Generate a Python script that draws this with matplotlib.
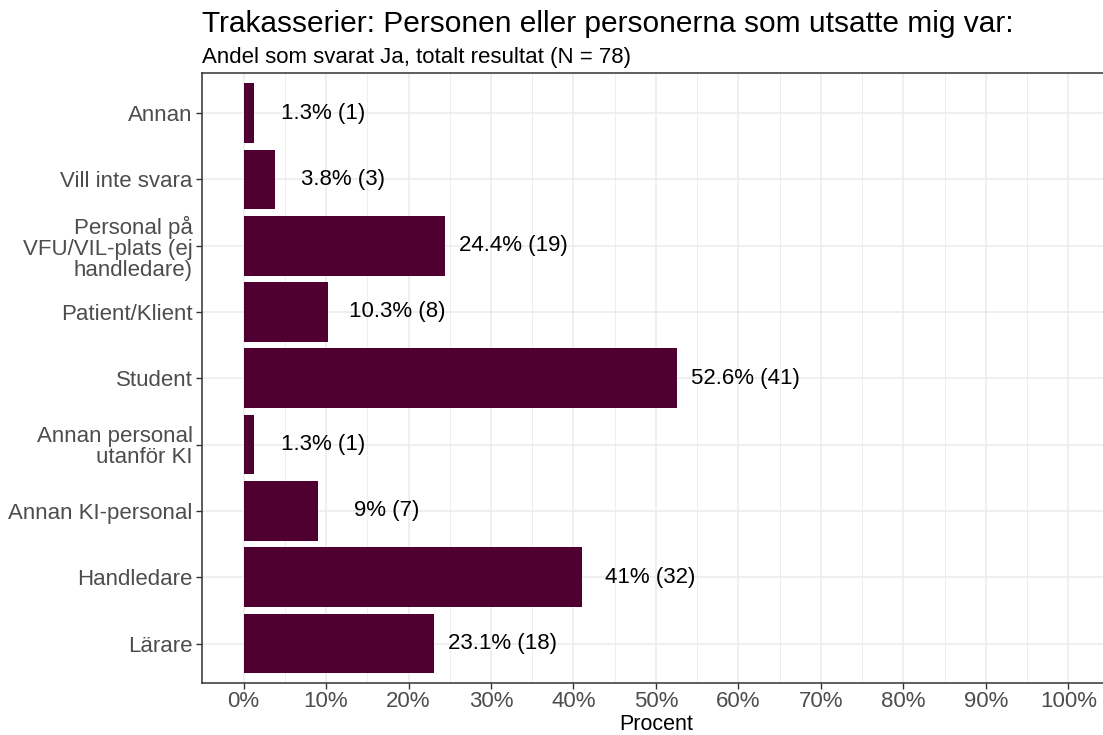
import matplotlib
matplotlib.use("Agg")
from matplotlib import pyplot as plt
from matplotlib.ticker import MultipleLocator

plt.rcParams['font.family'] = ['Liberation Sans', 'DejaVu Sans']

# categories from bottom to top
categories = ["Lärare", "Handledare", "Annan KI-personal", "Annan personal\nutanför KI",
              "Student", "Patient/Klient", "Personal på\nVFU/VIL-plats (ej\nhandledare)",
              "Vill inte svara", "Annan"]
percent = [23.1, 41, 9, 1.3, 52.6, 10.3, 24.4, 3.8, 1.3]
counts = [18, 32, 7, 1, 41, 8, 19, 3, 1]
percent_labels = ["23.1%", "41%", "9%", "1.3%", "52.6%", "10.3%", "24.4%", "3.8%", "1.3%"]

bar_color = "#4f0030"
grid_color = "#ebebeb"

fig = plt.figure(figsize=(11.03, 7.35), dpi=100)
ax = fig.add_axes([0.1834, 0.0703, 0.8226, 0.83])

y = list(range(len(categories)))
ax.barh(y, percent, height=0.9, color=bar_color, zorder=3)
for yi, p, lab, n in zip(y, percent, percent_labels, counts):
    ax.text(p + 8.3, yi, f"{lab} ({n})", ha="center", va="center",
            fontsize=16, color="black", zorder=4)

ax.set_xlim(-5, 105)
ax.set_ylim(-0.6, len(categories) - 0.4)
ax.xaxis.set_minor_locator(MultipleLocator(5))
ax.set_xticks(range(0, 101, 10))
ax.set_xticklabels([f"{v}%" for v in range(0, 101, 10)])
ax.set_yticks(y)
ax.set_yticklabels(categories, linespacing=1.0)

ax.grid(True, which="major", color=grid_color, linewidth=1.1, zorder=0)
ax.grid(True, which="minor", axis="x", color=grid_color, linewidth=0.6, zorder=0)
ax.tick_params(axis="both", which="major", labelsize=16, labelcolor="#4d4d4d",
               color="#333333", length=4, width=1, pad=3)
ax.tick_params(axis="x", which="major", pad=1.5)
ax.tick_params(axis="both", which="minor", length=0)
for spine in ax.spines.values():
    spine.set_color("#333333")
    spine.set_linewidth(1.1)

ax.set_xlabel("Procent", fontsize=15.5)
ax.xaxis.set_label_coords(0.5, -0.05)

fig.text(0.1834, 0.956, "Trakasserier: Personen eller personerna som utsatte mig var:",
         fontsize=21.5, ha="left", va="baseline")
fig.text(0.1834, 0.914, "Andel som svarat Ja, totalt resultat (N = 78)",
         fontsize=16, ha="left", va="baseline")

fig.savefig("out.png", dpi=100)
